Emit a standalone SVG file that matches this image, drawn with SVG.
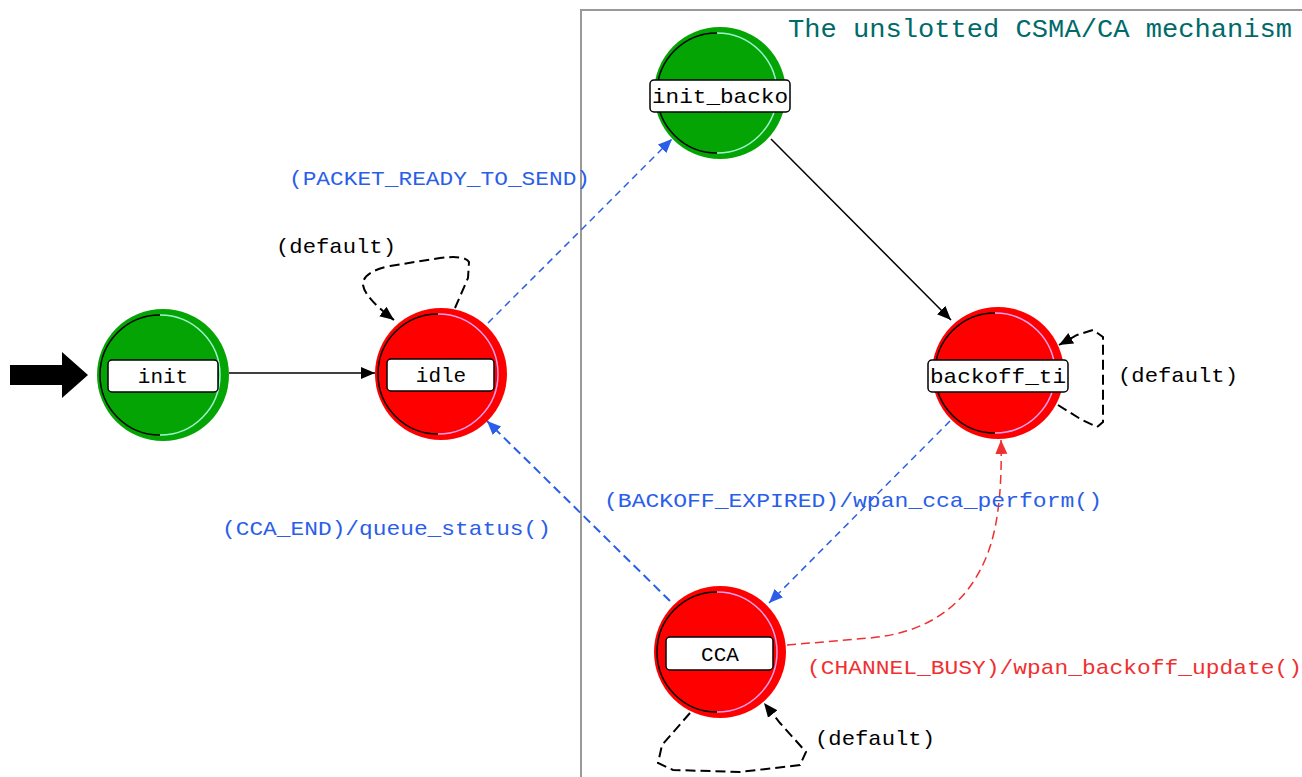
<svg xmlns="http://www.w3.org/2000/svg" width="1302" height="777" viewBox="0 0 1302 777">
<style>
.ring-g{fill:#04a404}
.ring-r{fill:#ff0000}
.arcL{fill:none;stroke:#000;stroke-width:1.5}
.arcRg{fill:none;stroke:#9cf6d0;stroke-width:1.5}
.arcRr{fill:none;stroke:#f0a0f0;stroke-width:1.5}
.lbl{fill:#fff;stroke:#000;stroke-width:1.5}
.ltxt{font-family:"Liberation Mono",monospace;font-size:21px;fill:#000;text-anchor:middle}
.t{font-family:"Liberation Mono",monospace;font-size:21px}
.blk{fill:#000}
.blu{fill:#2a5ee8}
.red{fill:#f03030}
</style>
<defs>
<marker id="ab" markerUnits="userSpaceOnUse" markerWidth="16" markerHeight="14" refX="14" refY="7" orient="auto"><path d="M0,1 L14,7 L0,13 Z" fill="#000"/></marker>
<marker id="au" markerUnits="userSpaceOnUse" markerWidth="16" markerHeight="14" refX="14" refY="7" orient="auto"><path d="M0,1 L14,7 L0,13 Z" fill="#2a5ee8"/></marker>
<marker id="ar" markerUnits="userSpaceOnUse" markerWidth="16" markerHeight="14" refX="14" refY="7" orient="auto"><path d="M0,1 L14,7 L0,13 Z" fill="#f03030"/></marker>
</defs>
<rect width="1302" height="777" fill="#fff"/>
<g id="frame">
<path d="M581,777 V10 H1302" fill="none" stroke="#999" stroke-width="2"/>
<text x="788" y="37" font-family="Liberation Mono,monospace" font-size="26" fill="#006a6a" textLength="504" lengthAdjust="spacingAndGlyphs">The unslotted CSMA/CA mechanism</text>
</g>
<g id="connectors">
<path d="M10,365 H62 V352 L88,375 L62,398 V385 H10 Z" fill="#000"/>
<line x1="229" y1="373" x2="375" y2="373" stroke="#000" stroke-width="1.5" marker-end="url(#ab)"/>
<path d="M455,308 L468,278 L469,262 Q465,255 440,258 L390,266 Q362,272 363,285 Q365,298 394,320" fill="none" stroke="#000" stroke-width="2" stroke-dasharray="10,5" marker-end="url(#ab)"/>
<line x1="488" y1="323" x2="672" y2="139" stroke="#2a5ee8" stroke-width="1.5" stroke-dasharray="7,5" marker-end="url(#au)"/>
<line x1="771" y1="139" x2="951" y2="320" stroke="#000" stroke-width="1.5" marker-end="url(#ab)"/>
<path d="M1058,405 L1082,420 L1097,427 L1103,422 V337 L1093,330 L1077,335 L1059,345" fill="none" stroke="#000" stroke-width="2" stroke-dasharray="10,5" marker-end="url(#ab)"/>
<line x1="950" y1="421" x2="769" y2="603" stroke="#2a5ee8" stroke-width="1.5" stroke-dasharray="7,5" marker-end="url(#au)"/>
<line x1="670" y1="601" x2="487" y2="421" stroke="#2a5ee8" stroke-width="2" stroke-dasharray="9,5" marker-end="url(#au)"/>
<path d="M787,645 L870,638 Q955,630 985,560 Q1003,520 1001,440" fill="none" stroke="#f03030" stroke-width="1.5" stroke-dasharray="9,5" marker-end="url(#ar)"/>
<path d="M690,713 L662,745 L658,763 L673,770 L740,772 L800,765 L806,752 L780,723 L764,703" fill="none" stroke="#000" stroke-width="2" stroke-dasharray="10,5" marker-end="url(#ab)"/>
</g>
<g id="labels">
<text class="t" x="276" y="253" textLength="120" lengthAdjust="spacingAndGlyphs" fill="#000">(default)</text>
<text class="t" x="289" y="185" textLength="301" lengthAdjust="spacingAndGlyphs" fill="#2a5ee8">(PACKET_READY_TO_SEND)</text>
<text class="t" x="1118" y="382" textLength="120" lengthAdjust="spacingAndGlyphs" fill="#000">(default)</text>
<text class="t" x="604" y="507" textLength="498" lengthAdjust="spacingAndGlyphs" fill="#2a5ee8">(BACKOFF_EXPIRED)/wpan_cca_perform()</text>
<text class="t" x="222" y="535" textLength="329" lengthAdjust="spacingAndGlyphs" fill="#2a5ee8">(CCA_END)/queue_status()</text>
<text class="t" x="807" y="674" textLength="495" lengthAdjust="spacingAndGlyphs" fill="#f03030">(CHANNEL_BUSY)/wpan_backoff_update()</text>
<text class="t" x="815" y="745" textLength="120" lengthAdjust="spacingAndGlyphs" fill="#000">(default)</text>
</g>
<g id="init">
<circle class="ring-g" cx="163" cy="375" r="66"/>
<path class="arcL" d="M160,315 A60,60 0 0 0 160,435"/>
<path class="arcRg" d="M160,315 A60,60 0 0 1 160,435"/>
<rect class="lbl" x="108" y="360" width="110" height="32" rx="4"/>
<text class="ltxt" x="163" y="383">init</text>
</g>
<g id="idle">
<circle class="ring-r" cx="441" cy="374" r="66"/>
<path class="arcL" d="M438,314 A60,60 0 0 0 438,434"/>
<path class="arcRr" d="M438,314 A60,60 0 0 1 438,434"/>
<rect class="lbl" x="387" y="359" width="107" height="32" rx="4"/>
<text class="ltxt" x="441" y="382">idle</text>
</g>
<g id="init_backo">
<circle class="ring-g" cx="720" cy="93" r="66"/>
<path class="arcL" d="M717,33 A60,60 0 0 0 717,153"/>
<path class="arcRg" d="M717,33 A60,60 0 0 1 717,153"/>
<rect class="lbl" x="650" y="80" width="140" height="32" rx="4"/>
<text class="ltxt" x="720" y="103" textLength="136" lengthAdjust="spacingAndGlyphs">init_backo</text>
</g>
<g id="backoff_ti">
<circle class="ring-r" cx="998" cy="373" r="66"/>
<path class="arcL" d="M995,313 A60,60 0 0 0 995,433"/>
<path class="arcRr" d="M995,313 A60,60 0 0 1 995,433"/>
<rect class="lbl" x="928" y="360" width="140" height="32" rx="4"/>
<text class="ltxt" x="998" y="383" textLength="136" lengthAdjust="spacingAndGlyphs">backoff_ti</text>
</g>
<g id="CCA">
<circle class="ring-r" cx="720" cy="652" r="66"/>
<path class="arcL" d="M717,592 A60,60 0 0 0 717,712"/>
<path class="arcRr" d="M717,592 A60,60 0 0 1 717,712"/>
<rect class="lbl" x="666" y="637" width="107" height="33" rx="4"/>
<text class="ltxt" x="720" y="661">CCA</text>
</g>
</svg>
